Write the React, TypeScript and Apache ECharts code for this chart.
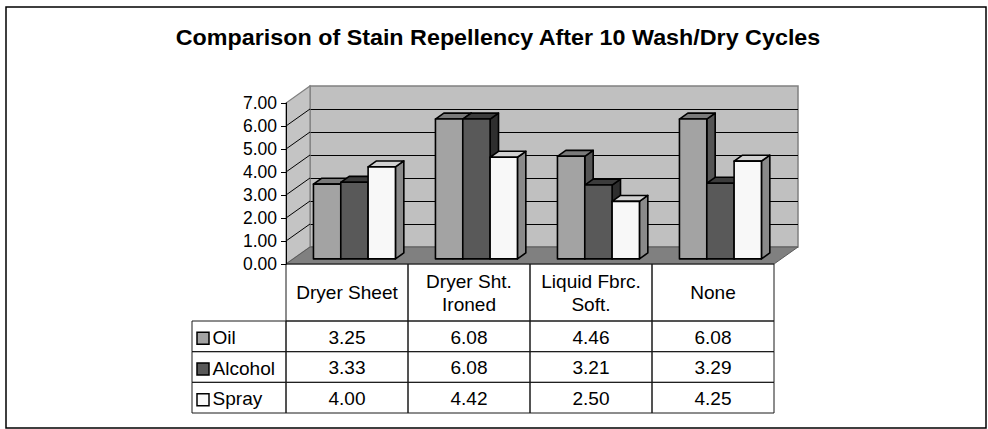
import React, { useEffect, useRef } from "react";
import * as echarts from "echarts";

// ---------------- data ----------------
const chartTitle = "Comparison of Stain Repellency After 10 Wash/Dry Cycles";
const categories = ["Dryer Sheet", "Dryer Sht.\nIroned", "Liquid Fbrc.\nSoft.", "None"];
const seriesNames = ["Oil", "Alcohol", "Spray"];
const oilValues = [3.25, 6.08, 4.46, 6.08];
const alcoholValues = [3.33, 6.08, 3.21, 3.29];
const sprayValues = [4.0, 4.42, 2.5, 4.25];
const yTicks = [0, 1, 2, 3, 4, 5, 6, 7];

const seriesValues = [oilValues, alcoholValues, sprayValues];

// ---------------- styles / layout ----------------
const FONT = '"Liberation Sans", Arial, sans-serif';
const FRONT = ["#a3a3a3", "#595959", "#f8f8f8"];
const TOP = ["#7a7a7a", "#3c3c3c", "#d2d2d2"];
const SIDE = ["#555555", "#2e2e2e", "#8a8a8a"];

const PLOT_LEFT = 286;
const PLOT_W = 488;
const PLOT_TOP = 103;
const PLOT_H = 161;
const DEPTH_X = 24;
const DEPTH_Y = 17;
const BAR_PLANE = 0.3;
const BAR_DEPTH = 0.35;
const GAP = 0.166;
const BW = 0.224;

const HEADER_H = 57;
const ROW_H = 30.67;
const LABEL_COL_W = 94;
const TEXT_SX = 1.06;

const yMin = yTicks[0];
const yMax = yTicks[yTicks.length - 1];
const nCat = categories.length;

function buildOption(): any {
  const grids = [
    {
      left: PLOT_LEFT + DEPTH_X,
      top: PLOT_TOP - DEPTH_Y,
      width: PLOT_W,
      height: PLOT_H,
      show: true,
      backgroundColor: "#c0c0c0",
      borderColor: "#808080",
      borderWidth: 1.5,
    },
    { left: PLOT_LEFT, top: PLOT_TOP, width: PLOT_W, height: PLOT_H },
    {
      left: PLOT_LEFT + DEPTH_X * BAR_PLANE,
      top: PLOT_TOP - DEPTH_Y * BAR_PLANE,
      width: PLOT_W,
      height: PLOT_H,
    },
  ];

  const xAxes = grids.map((_, gi) => ({
    type: "value",
    gridIndex: gi,
    min: 0,
    max: nCat,
    show: false,
  }));

  const yAxes: any[] = [
    {
      type: "value",
      gridIndex: 0,
      min: yMin,
      max: yMax,
      interval: 1,
      axisLine: { show: false },
      axisTick: { show: false },
      axisLabel: { show: false },
      splitLine: {
        show: true,
        showMinLine: false,
        showMaxLine: false,
        lineStyle: { color: "#000", width: 1 },
      },
    },
    {
      type: "value",
      gridIndex: 1,
      min: yMin,
      max: yMax,
      interval: 1,
      z: 5,
      axisLine: { show: true, lineStyle: { color: "#000", width: 1 } },
      axisTick: { show: true, length: 5, lineStyle: { color: "#000", width: 1 } },
      axisLabel: {
        show: true,
        margin: 9,
        color: "#000",
        fontSize: 17.5,
        fontFamily: FONT,
        formatter: (v: number) => v.toFixed(2),
      },
      splitLine: { show: false },
    },
    {
      type: "value",
      gridIndex: 2,
      min: yMin,
      max: yMax,
      show: false,
    },
  ];

  const wallSeries = {
    type: "custom",
    name: "walls",
    xAxisIndex: 1,
    yAxisIndex: 1,
    z: 1,
    silent: true,
    data: [[0, 0]],
    encode: { x: 0, y: 1 },
    renderItem: (_p: any, api: any) => {
      const off = (pt: number[]) => [pt[0] + DEPTH_X, pt[1] - DEPTH_Y];
      const b0 = api.coord([0, yMin]);
      const t0 = api.coord([0, yMax]);
      const bN = api.coord([nCat, yMin]);
      const children: any[] = [
        {
          type: "polygon",
          shape: { points: [b0, t0, off(t0), off(b0)] },
          style: { fill: "#c4c4c4", stroke: "#808080", lineWidth: 1.2 },
        },
        {
          type: "polygon",
          shape: { points: [b0, off(b0), off(bN), bN] },
          style: { fill: "#808080", stroke: "#5a5a5a", lineWidth: 1 },
        },
      ];
      yTicks.slice(1, -1).forEach((v) => {
        const p = api.coord([0, v]);
        children.push({
          type: "line",
          shape: { x1: p[0], y1: p[1], x2: p[0] + DEPTH_X, y2: p[1] - DEPTH_Y },
          style: { stroke: "#000", lineWidth: 1 },
        });
      });
      return { type: "group", children };
    },
  };

  const bdx = DEPTH_X * BAR_DEPTH;
  const bdy = DEPTH_Y * BAR_DEPTH;

  const barSeries = seriesNames.map((name, s) => ({
    type: "custom",
    name,
    xAxisIndex: 2,
    yAxisIndex: 2,
    z: 3,
    data: seriesValues[s].map((v, i) => [i, v]),
    encode: { x: 0, y: 1 },
    renderItem: (_p: any, api: any) => {
      const i = api.value(0);
      const v = api.value(1);
      const lb = api.coord([i + GAP + s * BW, 0]);
      const rt = api.coord([i + GAP + (s + 1) * BW, v]);
      const L = lb[0];
      const B = lb[1];
      const R = rt[0];
      const T = rt[1];
      const st = { stroke: "#000", lineWidth: 1.6, lineJoin: "round" };
      return {
        type: "group",
        children: [
          {
            type: "polygon",
            shape: { points: [[R, T], [R + bdx, T - bdy], [R + bdx, B - bdy], [R, B]] },
            style: { ...st, fill: SIDE[s] },
          },
          {
            type: "polygon",
            shape: { points: [[L, T], [L + bdx, T - bdy], [R + bdx, T - bdy], [R, T]] },
            style: { ...st, fill: TOP[s] },
          },
          {
            type: "rect",
            shape: { x: L, y: T, width: R - L, height: B - T },
            style: { ...st, fill: FRONT[s] },
          },
        ],
      };
    },
  }));

  const txt = (text: string, x: number, y: number, align: string, extra: any = {}) => ({
    type: "text",
    x,
    y,
    scaleX: TEXT_SX,
    style: {
      text,
      fill: "#000",
      font: `18px ${FONT}`,
      textAlign: align,
      textVerticalAlign: "middle",
      lineHeight: 22.7,
      ...extra,
    },
  });

  const tableSeries = {
    type: "custom",
    name: "table",
    xAxisIndex: 1,
    yAxisIndex: 1,
    z: 4,
    silent: true,
    data: categories.map((_, i) => [i, 0]),
    encode: { x: 0, y: 1 },
    renderItem: (_p: any, api: any) => {
      const i = api.value(0);
      const p0 = api.coord([i, 0]);
      const p1 = api.coord([i + 1, 0]);
      const x0 = p0[0];
      const x1 = p1[0];
      const y0 = p0[1];
      const cx = (x0 + x1) / 2;
      const cell = { fill: "none", stroke: "#1a1a1a", lineWidth: 1 };
      const children: any[] = [
        {
          type: "rect",
          shape: { x: x0, y: y0, width: x1 - x0, height: HEADER_H },
          style: cell,
        },
        txt(categories[i], cx, y0 + HEADER_H / 2 + 0.5, "center"),
      ];
      seriesValues.forEach((vals, s) => {
        const ry = y0 + HEADER_H + s * ROW_H;
        children.push({
          type: "rect",
          shape: { x: x0, y: ry, width: x1 - x0, height: ROW_H },
          style: cell,
        });
        children.push(txt(vals[i].toFixed(2), cx, ry + ROW_H / 2 + 1, "center"));
      });
      if (i === 0) {
        const lx = x0 - LABEL_COL_W;
        seriesNames.forEach((name, s) => {
          const ry = y0 + HEADER_H + s * ROW_H;
          children.push({
            type: "rect",
            shape: { x: lx, y: ry, width: LABEL_COL_W, height: ROW_H },
            style: cell,
          });
          const sq = 12;
          children.push({
            type: "rect",
            shape: { x: lx + 5, y: ry + ROW_H / 2 - sq / 2 + 2, width: sq, height: sq },
            style: { fill: FRONT[s], stroke: "#000", lineWidth: 1.5 },
          });
          children.push(txt(name, lx + 20.5, ry + ROW_H / 2 + 1.5, "left"));
        });
      }
      return { type: "group", children };
    },
  };

  return {
    animation: false,
    grid: grids,
    xAxis: xAxes,
    yAxis: yAxes,
    series: [wallSeries, ...barSeries, tableSeries],
    graphic: [
      {
        type: "rect",
        shape: { x: 6, y: 7, width: 980, height: 421 },
        style: { fill: "none", stroke: "#000", lineWidth: 1.5 },
        silent: true,
      },
      {
        type: "text",
        x: 498,
        y: 37,
        scaleX: 1.06,
        style: {
          text: chartTitle,
          font: `bold 22px ${FONT}`,
          fill: "#000",
          textAlign: "center",
          textVerticalAlign: "middle",
        },
        silent: true,
      },
    ],
  };
}

export default function App() {
  const ref = useRef<HTMLDivElement>(null);
  useEffect(() => {
    document.body.style.margin = "0";
    const chart = echarts.init(ref.current as HTMLDivElement, null, { renderer: "svg" });
    chart.setOption(buildOption());
    return () => {
      chart.dispose();
    };
  }, []);
  return <div ref={ref} style={{ width: 988, height: 429, background: "#fff" }} />;
}
